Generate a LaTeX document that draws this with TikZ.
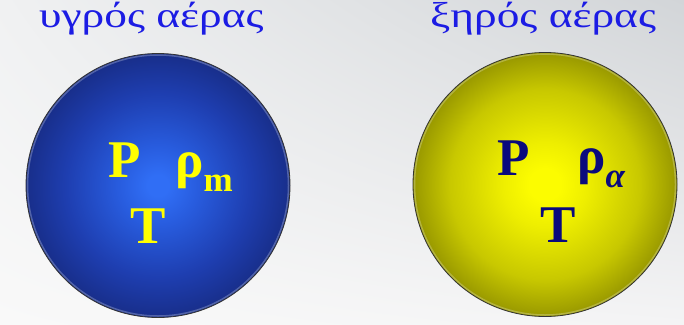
\documentclass[tikz,border=0pt]{standalone}
\usepackage{fontspec}
\setmainfont{Liberation Serif}
\usepackage{xcolor}
\usetikzlibrary{shadings}
\definecolor{titleblue}{RGB}{28,28,228}
\definecolor{navy}{RGB}{10,10,125}
\definecolor{symyellow}{RGB}{255,255,0}
\definecolor{wetin}{RGB}{48,110,245}
\definecolor{wetlight}{RGB}{40,92,222}
\definecolor{wetmid}{RGB}{30,62,176}
\definecolor{wetout}{RGB}{24,46,138}
\definecolor{dryin}{RGB}{252,252,0}
\definecolor{drylight}{RGB}{238,238,0}
\definecolor{drymid}{RGB}{200,200,0}
\definecolor{dryout}{RGB}{152,152,0}
\definecolor{bgul}{RGB}{240,241,242}
\definecolor{bgur}{RGB}{210,213,216}
\definecolor{bgll}{RGB}{249,249,249}
\definecolor{bglr}{RGB}{244,244,245}
% the circle edge sits at 25bp
\pgfdeclareradialshading{wetair}{\pgfpoint{0bp}{0bp}}{color(0bp)=(wetin); color(2bp)=(wetin); color(7.5bp)=(wetlight); color(17.5bp)=(wetmid); color(25bp)=(wetout); color(50bp)=(wetout)}
\pgfdeclareradialshading{dryair}{\pgfpoint{0bp}{0bp}}{color(0bp)=(dryin); color(3bp)=(dryin); color(8bp)=(drylight); color(18bp)=(drymid); color(25bp)=(dryout); color(50bp)=(dryout)}
\tikzset{
  heading/.style={anchor=base west,inner sep=0pt,text=titleblue,font=\fontsize{36}{36}\selectfont},
  sym/.style={anchor=base west,inner sep=0pt,font=\fontsize{53}{53}\selectfont\bfseries},
  rim/.style={white,opacity=0.25,line width=1.5pt},
}
\newcommand{\sub}[1]{\raisebox{-14pt}{\fontsize{35}{35}\selectfont #1}}
\newcommand{\wide}[1]{\scalebox{1.26}[1]{#1}}

\begin{document}
\begin{tikzpicture}[x=1pt,y=-1pt]
\useasboundingbox (0,0) rectangle (684,324);
% background
\shade[upper left=bgul,upper right=bgur,lower left=bgll,lower right=bglr]
  (0,0) rectangle (684,324);
% humid air
\node[heading] (wettitle) at (39,27) {\wide{υγρός αέρας}};
\shade[shading=wetair] (158,185.5) circle (132pt);
\draw[rim] (158,185.5) circle (130.5pt);
\draw[black!80,line width=0.8pt] (158,185.5) circle (132pt);
\node[sym,text=symyellow] (wetP) at (108,177) {P};
\node[sym,text=symyellow] (wetrho) at (175,177) {ρ\sub{m}};
\node[sym,text=symyellow] (wetT) at (130,243) {T};
% dry air
\node[heading] (drytitle) at (430,27) {\wide{ξηρός αέρας}};
\shade[shading=dryair] (545,184.5) circle (132pt);
\draw[rim] (545,184.5) circle (130.5pt);
\draw[black!80,line width=0.8pt] (545,184.5) circle (132pt);
\node[sym,text=navy] (dryP) at (497,175) {P};
\node[sym,text=navy] (dryrho) at (577,173) {ρ\sub{\itshape α}};
\node[sym,text=navy] (dryT) at (540,242) {T};
\end{tikzpicture}
\end{document}
